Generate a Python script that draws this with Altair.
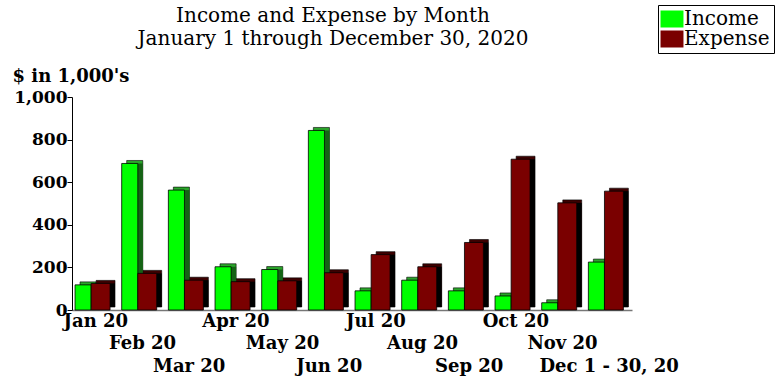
import altair as alt
import pandas as pd

months = ["Jan 20", "Feb 20", "Mar 20", "Apr 20", "May 20", "Jun 20",
          "Jul 20", "Aug 20", "Sep 20", "Oct 20", "Nov 20", "Dec 1 - 30, 20"]
income = [118, 688, 563, 203, 190, 843, 90, 140, 90, 66, 34, 225]
expense = [125, 172, 140, 133, 137, 175, 260, 203, 317, 708, 503, 558]
series_names = ["Income", "Expense"]
y_ticks = [0, 200, 400, 600, 800, 1000]

rows = []
for i, m in enumerate(months):
    rows.append({"idx": i, "month": m, "series": "Income", "value": income[i]})
    rows.append({"idx": i, "month": m, "series": "Expense", "value": expense[i]})
df = pd.DataFrame(rows)

label_expr = "[" + ",".join("'" + m + "'" for m in months) + "][floor(datum.value)]"

SERIF = "DejaVu Serif"

xscale = alt.Scale(domain=[0, 12], nice=False, zero=False)
yscale = alt.Scale(domain=[0, 1000], nice=False)

xaxis = alt.Axis(
    title=None, values=[i + 0.5 for i in range(12)], labelExpr=label_expr,
    labelFont=SERIF, labelFontSize=18, labelFontWeight="bold", labelColor="black",
    labelPadding={
        "condition": [
            {"test": "floor(datum.value) % 3 == 1", "value": 24},
            {"test": "floor(datum.value) % 3 == 2", "value": 47},
        ],
        "value": 2,
    },
    labelOverlap=False, labelBound=False,
    labelFlush=False, ticks=False, domainColor="#777777", domainWidth=1.5, grid=False,
)
yaxis = alt.Axis(
    title="$ in 1,000's", titleAngle=0, titleAlign="left", titleBaseline="alphabetic",
    titleX=-60, titleY=-16, titleFont=SERIF, titleFontSize=18, titleFontWeight="bold",
    titleColor="black", values=y_ticks, format=",d", labelFont=SERIF, labelFontSize=17,
    labelFontWeight="bold", labelColor="black", labelPadding=0, tickSize=5,
    tickColor="black", domainColor="black", grid=False,
)

base = alt.Chart(df).transform_calculate(
    x0="datum.idx + (datum.series == 'Income' ? 0.065 : 0.41)",
    x1="datum.idx + (datum.series == 'Income' ? 0.41 : 0.815)",
).transform_calculate(
    x0d="datum.x0 + 0.107",
    x1d="datum.x1 + 0.107",
    yd="14",
    vd="datum.value + 14",
    z="0",
    topc="datum.series == 'Income' ? '#2aa52a' : '#3c0000'",
    sidec="datum.series == 'Income' ? '#156315' : '#000000'",
)

back = base.mark_rect(stroke="black", strokeWidth=0.6).encode(
    x=alt.X("x0d:Q", scale=xscale, axis=xaxis),
    x2="x1d:Q",
    y=alt.Y("yd:Q", scale=yscale, axis=yaxis),
    y2="vd:Q",
    fill=alt.Fill("topc:N", scale=None),
)
side = base.mark_rect().encode(
    x=alt.X("x1:Q", scale=xscale, axis=xaxis),
    x2="x1d:Q",
    y=alt.Y("yd:Q", scale=yscale, axis=yaxis),
    y2="value:Q",
    fill=alt.Fill("sidec:N", scale=None),
)
front = base.mark_rect(stroke="black", strokeWidth=0.8).encode(
    x=alt.X("x0:Q", scale=xscale, axis=xaxis),
    x2="x1:Q",
    y=alt.Y("z:Q", scale=yscale, axis=yaxis),
    y2="value:Q",
    fill=alt.Fill(
        "series:N",
        scale=alt.Scale(domain=series_names, range=["#00ff00", "#7a0000"]),
        legend=alt.Legend(
            title=None, orient="none", legendX=586, legendY=-92,
            symbolType="M-1.35,-1L1.35,-1L1.35,1L-1.35,1Z", symbolSize=289,
            symbolStrokeWidth=0, labelFont=SERIF, labelFontSize=20, labelColor="black",
            labelOffset=2, strokeColor="black", fillColor="white", padding=4,
            rowPadding=0,
        ),
    ),
)

chart = alt.layer(back, side, front).properties(
    width=560, height=213, background="white",
    title=alt.Title(
        text=["Income and Expense by Month", "January 1 through December 30, 2020"],
        font=SERIF, fontSize=20, fontWeight="normal", color="black",
        anchor="middle", dx=-19, dy=54, lineHeight=23, offset=10,
    ),
    autosize=alt.AutoSizeParams(type="none"),
    padding={"left": 72, "top": 97, "right": 150, "bottom": 69},
).configure_view(stroke=None)

chart.save("out.html", embed_options={"renderer": "svg", "actions": False})
